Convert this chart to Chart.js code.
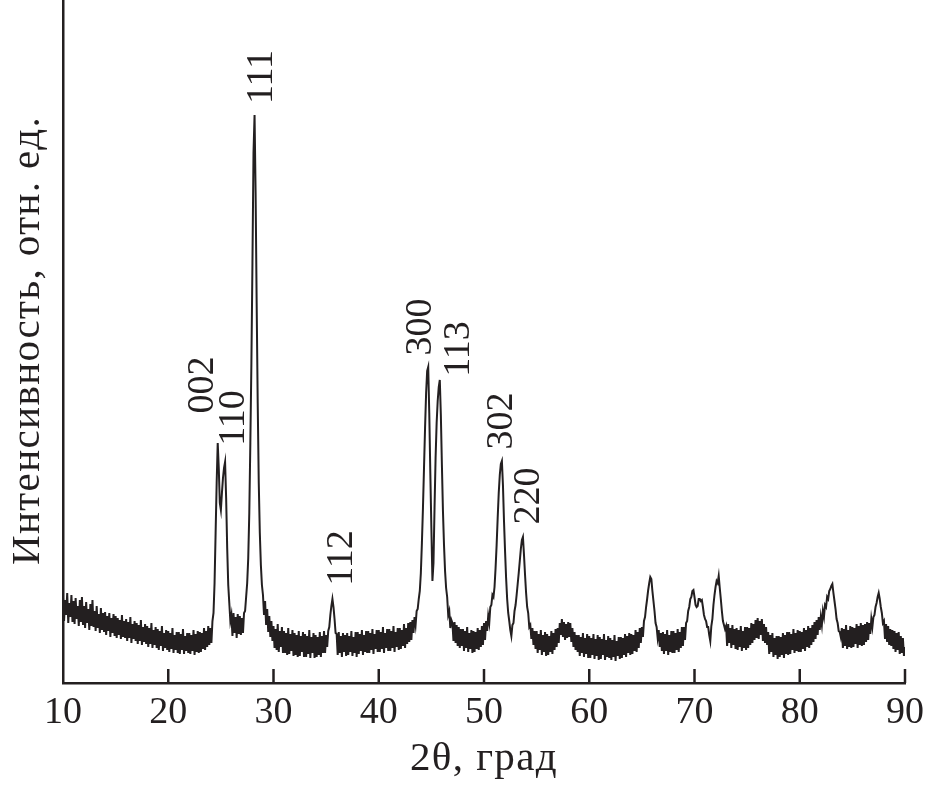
<!DOCTYPE html>
<html><head><meta charset="utf-8">
<script src="https://cdn.jsdelivr.net/npm/chart.js@4/dist/chart.umd.min.js"></script>
<style>html,body{margin:0;padding:0;background:#fff;} #wrap{width:927px;height:786px;}</style>
</head><body><div id="wrap"><canvas id="c" width="927" height="786"></canvas></div>
<script>
// Angle grid (2θ, degrees) of the scan
const twoThetaStart = 10;
const twoThetaStep = 0.1;
// Intensity (arbitrary units), one value per 0.1° from 10.0° to 90.0°
const intensity = [
86,62,83,68,90,60,80,66,88,61,
82,59,85,64,77,57,83,61,86,58,
77,55,81,60,74,53,79,57,83,56,
72,52,77,55,69,50,75,53,70,51,
71,48,67,52,70,46,65,50,69,47,
67,45,65,48,63,44,68,46,62,45,
64,42,61,45,66,40,59,44,62,42,
60,39,58,42,63,38,56,41,59,39,
57,36,55,39,60,35,53,38,56,35,
54,33,52,37,57,32,50,35,53,33,
52,31,50,34,55,30,48,33,51,30,
51,29,49,33,54,29,47,32,50,30,
50,29,48,32,53,28,49,31,52,30,
51,31,50,34,55,33,52,36,57,38,
55,40,62,70,100,150,200,240,215,180,
173,190,205,215,221,185,135,98,80,62,
68,47,70,50,66,45,69,49,67,48,
65,50,70,72,86,100,125,170,240,320,
420,530,568,490,380,280,200,150,118,98,
88,68,82,58,74,51,67,46,62,42,
57,35,54,33,59,31,52,36,56,30,
52,30,50,28,55,29,49,32,53,27,
50,28,48,26,52,27,47,31,51,26,
49,26,47,29,53,25,46,30,50,25,
48,26,46,28,51,26,47,30,52,30,
48,36,52,56,68,77,84,76,64,50,
49,28,51,30,47,26,50,31,48,27,
50,28,47,31,52,27,46,30,51,26,
51,29,49,32,53,28,48,31,52,30,
52,30,50,33,54,29,49,34,53,31,
53,31,51,34,56,30,50,35,54,32,
54,32,52,35,57,31,51,36,55,33,
55,34,53,37,59,35,55,39,60,41,
61,43,63,50,66,58,72,74,84,92,
110,140,175,215,255,290,312,316,270,210,
155,102,120,175,225,260,282,296,303,268,
218,172,138,112,95,86,68,72,55,63,
60,42,61,40,58,37,56,35,54,37,
54,32,52,35,56,31,50,34,53,30,
52,31,51,34,55,33,53,36,57,38,
60,43,62,52,67,60,76,78,88,86,
96,115,138,165,190,208,219,222,198,162,
132,105,84,70,62,53,47,58,60,72,
78,88,99,110,122,134,143,146,128,108,
90,76,70,56,58,44,55,38,52,34,
52,30,49,33,53,28,48,31,51,27,
49,28,47,31,52,29,50,33,54,36,
55,40,60,48,64,46,61,43,59,45,
61,46,60,41,55,36,51,33,48,31,
48,27,46,30,50,26,45,29,49,25,
47,25,45,28,49,24,44,27,48,23,
46,24,44,28,49,23,43,26,47,25,
45,23,43,26,48,22,42,27,46,24,
46,25,45,28,49,26,47,30,50,28,
49,29,48,32,53,31,51,35,55,40,
56,46,62,66,76,84,93,100,106,104,
92,82,72,60,56,45,53,36,50,32,
51,29,49,32,53,28,48,31,52,30,
52,30,50,33,54,31,51,35,56,37,
56,43,60,62,72,76,84,86,92,93,
86,78,76,77,84,84,82,83,76,68,
64,62,56,56,48,42,57,64,78,88,
96,102,100,107,95,84,72,62,58,54,
57,37,59,40,55,35,58,38,54,34,
55,33,53,36,57,32,52,35,56,33,
56,35,55,38,60,40,59,43,63,45,
65,44,62,48,64,42,59,40,56,38,
51,29,48,31,50,26,45,28,47,24,
47,26,46,28,50,25,48,29,51,28,
51,29,49,33,54,30,50,32,53,31,
52,31,51,34,55,32,53,36,57,35,
55,38,58,41,61,44,63,48,66,53,
66,58,72,66,78,76,86,84,92,94,
97,99,90,82,74,64,60,52,51,46,
55,35,54,37,58,34,53,36,57,35,
56,36,55,39,59,35,57,38,60,37,
58,38,59,41,61,43,60,49,64,56,
66,68,76,80,86,90,84,76,70,60,
62,44,59,41,57,38,54,37,53,34,
52,31,50,33,51,29,47,30,45,27,
36
];
const xTickValues = [10, 20, 30, 40, 50, 60, 70, 80, 90];
const xTitle = '2θ, град';
const yTitle = 'Интенсивность, отн. ед.';
// Reflection (hkl) labels and the data point each label sits at
const peakLabels = ['002', '110', '111', '112', '300', '113', '302', '220'];
const peakLabelTheta = [23.3, 26.25, 28.91, 36.51, 44.01, 47.63, 51.71, 54.28];
const peakLabelLevel = [298, 265, 606, 125, 356, 334, 262, 187];

const ink = '#231f20';
const serif = '"Liberation Serif", "Times New Roman", serif';

const points = intensity.map((v, i) => ({ x: Math.round((twoThetaStart + i * twoThetaStep) * 10) / 10, y: v }));

const decor = {
  id: 'decor',
  afterDatasetsDraw(chart) {
    const { ctx, scales: { x, y }, chartArea } = chart;
    ctx.save();
    ctx.strokeStyle = ink;
    ctx.lineWidth = 2.5;
    xTickValues.forEach(v => {
      if (v === x.min) return;
      const px = x.getPixelForValue(v);
      ctx.beginPath();
      ctx.moveTo(px, chartArea.bottom);
      ctx.lineTo(px, chartArea.bottom - 14);
      ctx.stroke();
    });
    ctx.fillStyle = ink;
    ctx.font = '38px ' + serif;
    ctx.textAlign = 'center';
    ctx.textBaseline = 'middle';
    peakLabels.forEach((t, i) => {
      const px = x.getPixelForValue(peakLabelTheta[i]);
      const py = y.getPixelForValue(peakLabelLevel[i]);
      ctx.save();
      ctx.translate(px, py);
      ctx.rotate(-Math.PI / 2);
      ctx.fillText(t, 0, 0);
      ctx.restore();
    });
    // axis titles
    ctx.font = '41px ' + serif;
    try { ctx.letterSpacing = '1.4px'; } catch (e) {}
    ctx.fillText(xTitle, (chartArea.left + chartArea.right) / 2, 759);
    ctx.save();
    ctx.translate(28, (chartArea.top + chartArea.bottom) / 2 - 1);
    ctx.rotate(-Math.PI / 2);
    ctx.fillText(yTitle, 0, 0);
    ctx.restore();
    ctx.restore();
  }
};

new Chart(document.getElementById('c'), {
  type: 'line',
  data: {
    datasets: [{
      data: points,
      borderColor: ink,
      borderWidth: 2,
      pointRadius: 0,
      tension: 0,
      fill: false
    }]
  },
  options: {
    responsive: false,
    maintainAspectRatio: false,
    animation: false,
    layout: { padding: { top: 0, right: 22, bottom: 0, left: 0 } },
    plugins: { legend: { display: false }, tooltip: { enabled: false } },
    scales: {
      x: {
        type: 'linear',
        min: 10, max: 90,
        afterBuildTicks(s) { s.ticks = xTickValues.map(v => ({ value: v })); },
        ticks: { color: ink, font: { family: serif, size: 38 }, padding: 7, maxRotation: 0, autoSkip: false },
        grid: { display: false, drawTicks: false },
        border: { display: true, color: ink, width: 2.5 },
        title: { display: false, text: xTitle },
        afterFit(s) { s.height = 103; s.paddingLeft = 0; s.paddingRight = 0; }
      },
      y: {
        type: 'linear',
        min: 0, max: 683,
        ticks: { display: false },
        grid: { display: false, drawTicks: false },
        border: { display: true, color: ink, width: 2.5 },
        title: { display: false, text: yTitle },
        afterFit(s) { s.width = 63; s.paddingTop = 0; s.paddingBottom = 0; }
      }
    }
  },
  plugins: [decor]
});
</script>
</body></html>
